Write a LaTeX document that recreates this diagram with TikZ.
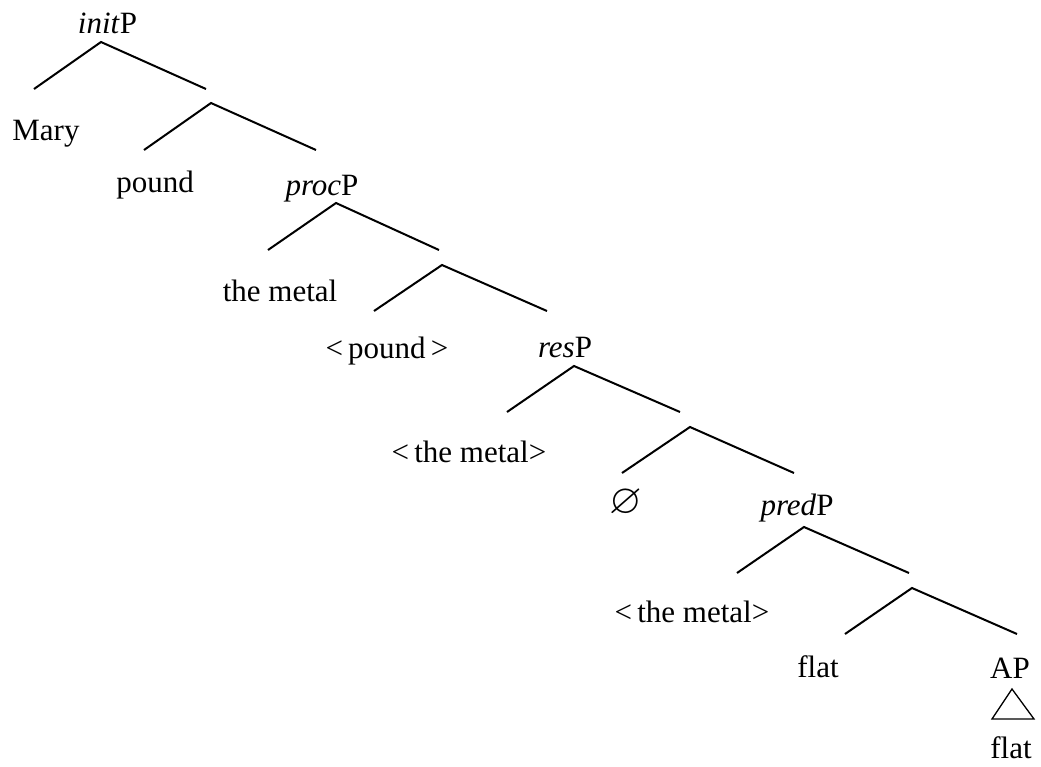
\documentclass[tikz,border=0pt]{standalone}
\usepackage{amssymb}
\usepackage{fontspec}
\setmainfont{Liberation Serif}
\begin{document}
\begin{tikzpicture}[x=0.5pt,y=-0.5pt,
  branch/.style={line width=1pt},
  tri/.style={line width=0.65pt, line join=miter},
  lbl/.style={anchor=base, inner sep=0pt, font=\fontsize{15.5}{18}\selectfont}]
\useasboundingbox (0,0) rectangle (1041,767);
% labels
\node[lbl] (initP) at (107.5,33) {\textit{init}P};
\node[lbl] (mary) at (46,140) {Mary};
\node[lbl] (pound) at (155,192) {pound};
\node[lbl] (procP) at (322,195) {\textit{proc}P};
\node[lbl] (metal1) at (280,301) {the metal};
\node[lbl] (pound2) at (387,358) {<\,pound\,>};
\node[lbl] (resP) at (565,357) {\textit{res}P};
\node[lbl] (metal2) at (469,462) {<\,the metal>};
\node[lbl, font=\fontsize{21}{24}\selectfont] (empty) at (626,513) {$\varnothing$};
\node[lbl] (predP) at (797,515) {\textit{pred}P};
\node[lbl] (metal3) at (692,622) {<\,the metal>};
\node[lbl] (flat1) at (818,677) {flat};
\node[lbl] (AP) at (1010,678) {AP};
\node[lbl] (flat2) at (1011,758) {flat};
% apexes and branch ends
\coordinate (a1) at (101,42);  \coordinate (l1) at (34,89);   \coordinate (r1) at (206,89);
\coordinate (a2) at (211,103); \coordinate (l2) at (144,150); \coordinate (r2) at (316,150);
\coordinate (a3) at (336,203); \coordinate (l3) at (268,250); \coordinate (r3) at (439,250);
\coordinate (a4) at (442,265); \coordinate (l4) at (374,311); \coordinate (r4) at (547,311);
\coordinate (a5) at (574,366); \coordinate (l5) at (507,412); \coordinate (r5) at (680,412);
\coordinate (a6) at (690,427); \coordinate (l6) at (622,473); \coordinate (r6) at (794,473);
\coordinate (a7) at (804,527); \coordinate (l7) at (737,573); \coordinate (r7) at (909,573);
\coordinate (a8) at (912,588); \coordinate (l8) at (845,634); \coordinate (r8) at (1017,634);
\foreach \i in {1,...,8} {
  \draw[branch] (l\i) -- (a\i) -- (r\i);
}
% triangle
\coordinate (ta) at (1012,689); \coordinate (tl) at (992,719); \coordinate (tr) at (1034,719);
\draw[tri] (ta) -- (tl) -- (tr) -- cycle;
\end{tikzpicture}
\end{document}
